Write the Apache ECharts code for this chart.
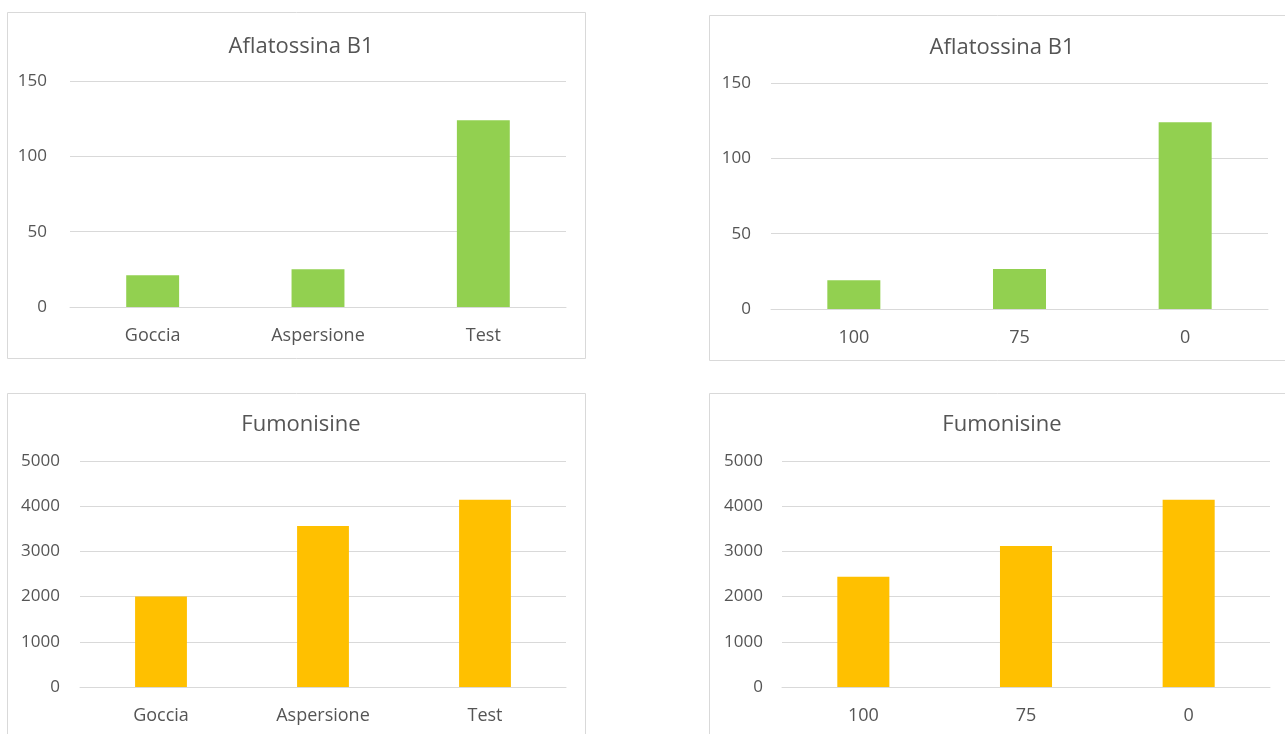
<!DOCTYPE html>
<html>
<head>
<meta charset="utf-8">
<script src="https://cdn.jsdelivr.net/npm/echarts@6/dist/echarts.min.js"></script>
<style>
  html, body { margin: 0; padding: 0; background: #ffffff; }
  #chart { width: 1285px; height: 734px; }
</style>
</head>
<body>
<div id="chart"></div>
<script>
// Categories
const methodCategories = ['Goccia', 'Aspersione', 'Test'];
const doseCategories = ['100', '75', '0'];

// Aflatossina B1 values
const aflaByMethod = [21, 25, 124];
const aflaByDose = [19, 26.5, 124];

// Fumonisine values
const fumoByMethod = [2000, 3560, 4140];
const fumoByDose = [2440, 3120, 4140];

// Axis ticks
const aflaTicks = { min: 0, max: 150, interval: 50 };
const fumoTicks = { min: 0, max: 5000, interval: 1000 };

const GREEN = '#92D050';
const ORANGE = '#FFC000';
const TEXT = '#555555';
const GRID_LINE = '#D9D9D9';
const FONT = '"Open Sans", Lato, sans-serif';

const chart = echarts.init(document.getElementById('chart'));

const grids = [
  { left: 70, top: 81, width: 496, height: 226 },
  { left: 771, top: 83, width: 497, height: 226 },
  { left: 80, top: 461, width: 486, height: 226 },
  { left: 782, top: 461, width: 488, height: 226 }
];

const panels = [
  { title: 'Aflatossina B1', cats: methodCategories, data: aflaByMethod, ticks: aflaTicks, color: GREEN, cx: 296, ty: 31, ym: 23 },
  { title: 'Aflatossina B1', cats: doseCategories, data: aflaByDose, ticks: aflaTicks, color: GREEN, cx: 997, ty: 32, ym: 20 },
  { title: 'Fumonisine', cats: methodCategories, data: fumoByMethod, ticks: fumoTicks, color: ORANGE, cx: 296, ty: 409, ym: 20 },
  { title: 'Fumonisine', cats: doseCategories, data: fumoByDose, ticks: fumoTicks, color: ORANGE, cx: 997, ty: 409, ym: 19 }
];

// Panel frames
const frames = [
  { x: 7.5, y: 12.5, width: 578, height: 346 },
  { x: 709.5, y: 15.5, width: 590, height: 345 },
  { x: 7.5, y: 393.5, width: 578, height: 360 },
  { x: 709.5, y: 393.5, width: 590, height: 360 }
];

const option = {
  backgroundColor: '#ffffff',
  animation: false,
  title: panels.map(p => ({
    text: p.title,
    left: p.cx,
    top: p.ty,
    textAlign: 'center',
    textStyle: { color: TEXT, fontFamily: FONT, fontSize: 22, fontWeight: 'normal' }
  })),
  graphic: frames.map(f => ({
    type: 'rect',
    shape: f,
    style: { fill: 'none', stroke: GRID_LINE, lineWidth: 1 },
    silent: true,
    z: -1
  })),
  grid: grids.map(g => Object.assign({ containLabel: false }, g)),
  xAxis: panels.map((p, i) => ({
    type: 'category',
    gridIndex: i,
    data: p.cats,
    axisTick: { show: false },
    axisLine: { show: true, lineStyle: { color: GRID_LINE, width: 1 } },
    axisLabel: { color: TEXT, fontFamily: FONT, fontSize: 18, margin: 20 }
  })),
  yAxis: panels.map((p, i) => ({
    type: 'value',
    gridIndex: i,
    min: p.ticks.min,
    max: p.ticks.max,
    interval: p.ticks.interval,
    axisLine: { show: false },
    axisTick: { show: false },
    splitLine: { lineStyle: { color: GRID_LINE, width: 1 } },
    axisLabel: {
      color: TEXT, fontFamily: FONT, fontSize: 17, margin: p.ym,
      formatter: v => String(v)
    }
  })),
  series: panels.map((p, i) => ({
    type: 'bar',
    xAxisIndex: i,
    yAxisIndex: i,
    data: p.data,
    barCategoryGap: '68%',
    itemStyle: { color: p.color }
  }))
};

chart.setOption(option);
</script>
</body>
</html>
